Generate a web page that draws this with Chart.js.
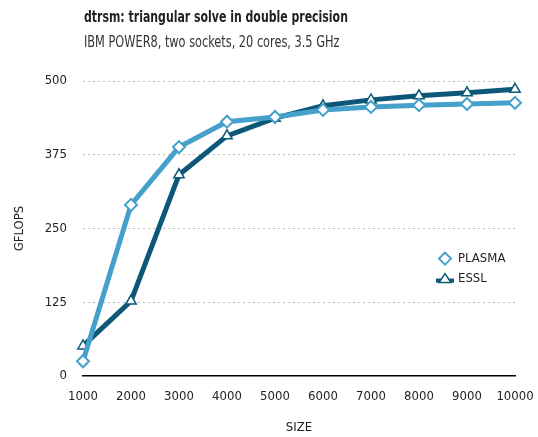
<!DOCTYPE html>
<html>
<head>
<meta charset="utf-8">
<script src="https://cdn.jsdelivr.net/npm/chart.js@4"></script>
<style>
  html, body { margin: 0; padding: 0; background: #fff; }
  #wrap { position: relative; width: 538px; height: 437px; }
  .head { position: absolute; left: 84px; white-space: nowrap; transform-origin: left top; font-family: "DejaVu Sans Condensed", "DejaVu Sans", sans-serif; }
  #title { top: 7px; font-size: 16px; font-weight: bold; color: #222; transform: scaleX(0.76); }
  #subtitle { top: 33px; font-size: 15px; color: #333; transform: scaleX(0.84); }
  canvas { position: absolute; left: 0; top: 0; }
</style>
</head>
<body>
<div id="wrap">
  <canvas id="chart" width="538" height="437"></canvas>
  <div id="title" class="head">dtrsm: triangular solve in double precision</div>
  <div id="subtitle" class="head">IBM POWER8, two sockets, 20 cores, 3.5 GHz</div>
</div>
<script>
// matrix sizes
const sizes = [1000, 2000, 3000, 4000, 5000, 6000, 7000, 8000, 9000, 10000]
// GFLOPS
const plasma = [25, 290, 388, 431, 439, 451, 456, 459, 461, 463]
const essl = [51, 127, 341, 407, 437, 458, 468, 475, 480, 486]
const yTicks = [0, 125, 250, 375, 500]

const FONT = "'DejaVu Sans Condensed', 'DejaVu Sans', sans-serif"
const lightBlue = "#45a1cc"
const darkBlue = "#0d5878"

// legend drawn inside the plot, on the right
const insideLegend = {
  id: "insideLegend",
  afterDraw(chart) {
    const ctx = chart.ctx
    const x = chart.chartArea.right - 70
    const y0 = chart.scales.y.getPixelForValue(199)
    chart.data.datasets.forEach((ds, i) => {
      const y = y0 + i * 20
      ctx.save()
      ctx.strokeStyle = ds.borderColor
      ctx.fillStyle = "#fff"
      if (i === 1) {
        ctx.lineWidth = 4
        ctx.beginPath()
        ctx.moveTo(x - 9, y + 2)
        ctx.lineTo(x + 9, y + 2)
        ctx.stroke()
        ctx.lineWidth = 1.5
        ctx.beginPath()
        ctx.moveTo(x, y - 5)
        ctx.lineTo(x + 6, y + 4)
        ctx.lineTo(x - 6, y + 4)
        ctx.closePath()
        ctx.fill()
        ctx.stroke()
      } else {
        ctx.lineWidth = 2
        ctx.beginPath()
        ctx.moveTo(x, y - 6)
        ctx.lineTo(x + 6, y)
        ctx.lineTo(x, y + 6)
        ctx.lineTo(x - 6, y)
        ctx.closePath()
        ctx.fill()
        ctx.stroke()
      }
      ctx.fillStyle = "#222"
      ctx.font = "13px " + FONT
      ctx.textBaseline = "middle"
      ctx.textAlign = "left"
      ctx.fillText(ds.label, x + 13, y)
      ctx.restore()
    })
  },
}

new Chart(document.getElementById("chart"), {
  type: "line",
  data: {
    labels: sizes,
    datasets: [
      {
        label: "PLASMA",
        data: plasma,
        borderColor: lightBlue,
        backgroundColor: "#fff",
        borderWidth: 5,
        pointStyle: "rectRot",
        pointRadius: 6,
        pointBorderWidth: 2,
        pointBackgroundColor: "#fff",
        pointBorderColor: lightBlue,
        tension: 0,
      },
      {
        label: "ESSL",
        data: essl,
        borderColor: darkBlue,
        backgroundColor: "#fff",
        borderWidth: 5,
        pointStyle: "triangle",
        pointRadius: 6,
        pointBorderWidth: 1.5,
        pointBackgroundColor: "#fff",
        pointBorderColor: darkBlue,
        tension: 0,
      },
    ],
  },
  options: {
    responsive: false,
    animation: false,
    layout: { padding: { top: 81, right: 23, bottom: 0, left: 8 } },
    plugins: {
      legend: { display: false },
      tooltip: { enabled: false },
    },
    scales: {
      x: {
        afterFit: (axis) => {
          axis.paddingLeft = 0
          axis.paddingRight = 0
          axis.height = 61
        },
        grid: { display: false, drawTicks: false },
        border: { display: true, color: "#000", width: 1.5 },
        ticks: { color: "#222", font: { family: FONT, size: 13 }, padding: 13, maxRotation: 0 },
        title: { display: true, text: "SIZE", color: "#222", font: { family: FONT, size: 13 }, padding: { top: 10, bottom: 2 } },
      },
      y: {
        min: 0,
        max: 500,
        afterBuildTicks: (axis) => {
          axis.ticks = yTicks.map((v) => ({ value: v }))
        },
        afterFit: (axis) => {
          axis.width = 75
        },
        grid: {
          drawTicks: false,
          color: (c) => (c.tick && c.tick.value === 0 ? "rgba(0,0,0,0)" : "#bbb"),
          lineWidth: 1,
        },
        border: { display: false, dash: [2, 3] },
        ticks: { color: "#222", font: { family: FONT, size: 13 }, padding: 16 },
        title: { display: true, text: "GFLOPS", color: "#222", font: { family: FONT, size: 13 }, padding: { bottom: 0 } },
      },
    },
  },
  plugins: [insideLegend],
})
</script>
</body>
</html>
